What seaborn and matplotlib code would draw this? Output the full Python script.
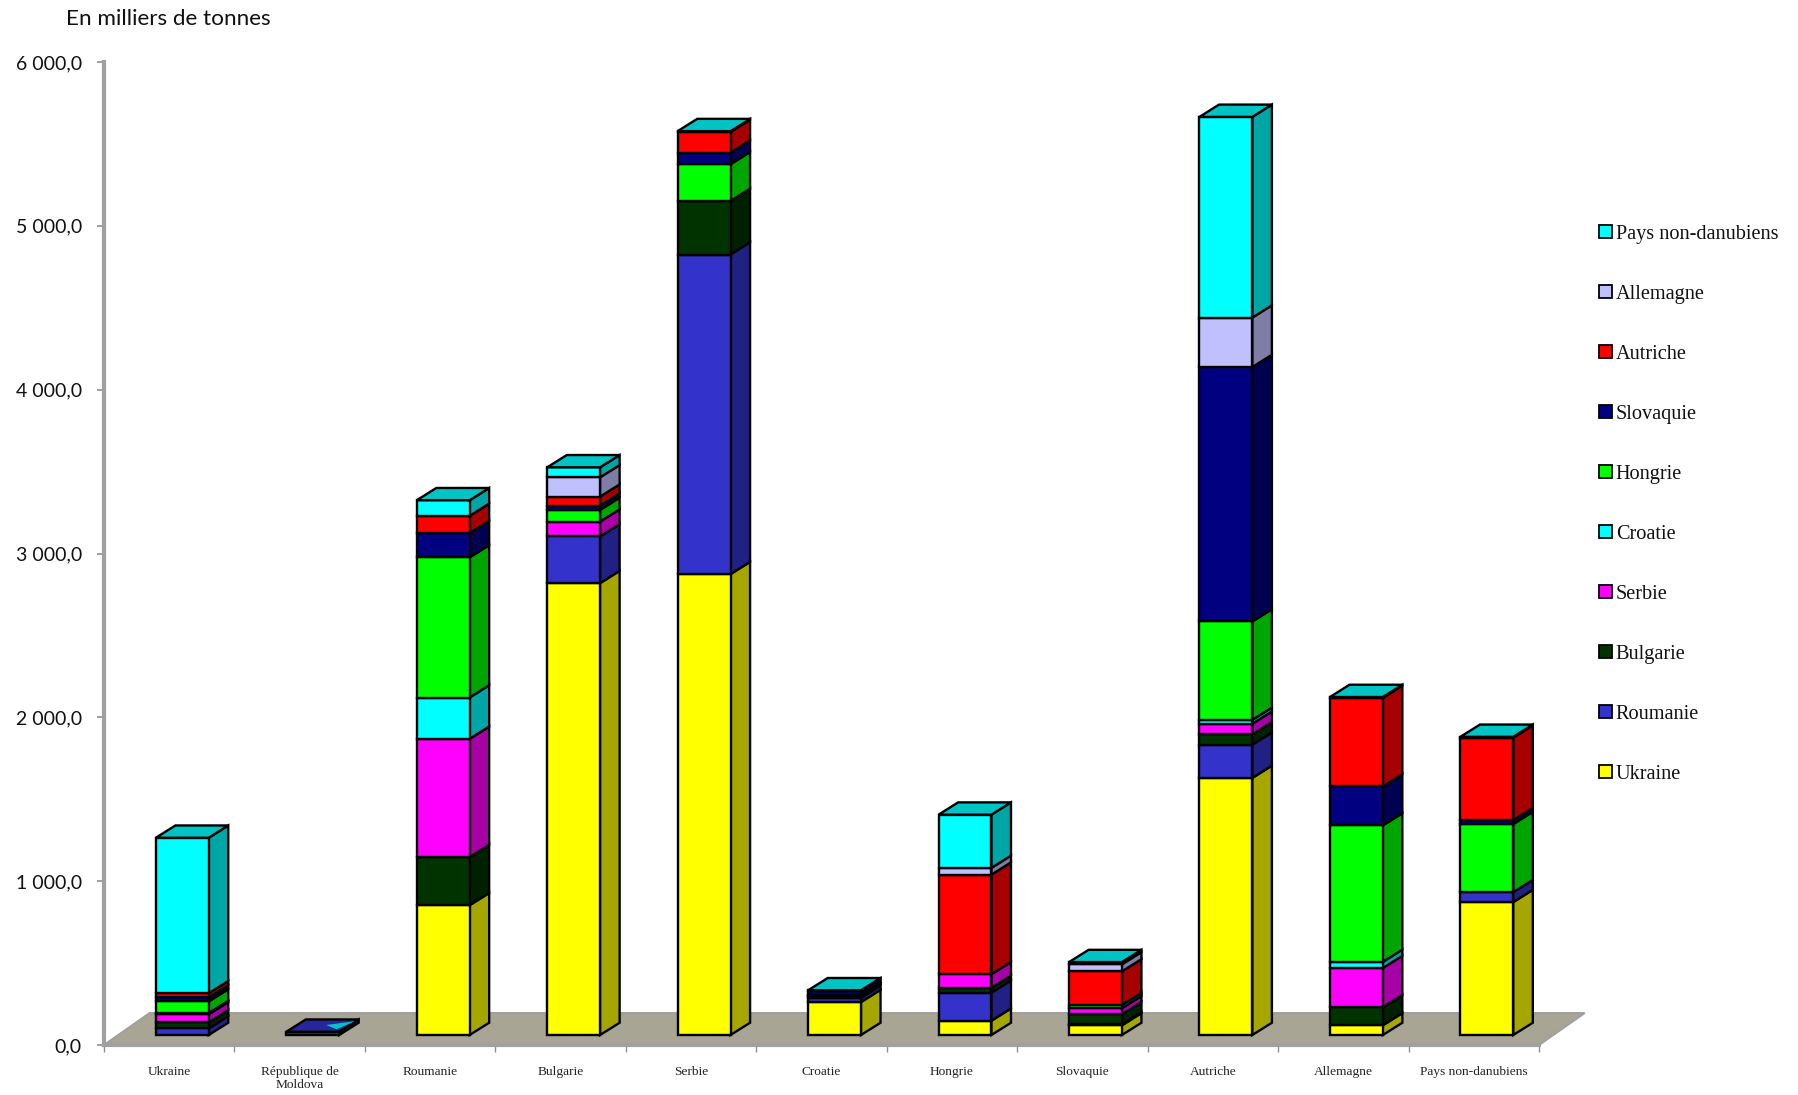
import matplotlib
matplotlib.use("Agg")
import matplotlib.pyplot as plt
import pandas as pd
import seaborn as sns
from matplotlib.colors import to_rgb
from matplotlib.patches import Patch, Polygon

# Step 1: the values, in thousands of tonnes
countries = ["Ukraine", "République de\nMoldova", "Roumanie", "Bulgarie", "Serbie", "Croatie",
             "Hongrie", "Slovaquie", "Autriche", "Allemagne", "Pays non-danubiens"]
series_names = ["Ukraine", "Roumanie", "Bulgarie", "Serbie", "Croatie", "Hongrie",
                "Slovaquie", "Autriche", "Allemagne", "Pays non-danubiens"]
series_colors = ["#FFFF00", "#3333CC", "#003300", "#FF00FF", "#00FFFF", "#00FF00",
                 "#000080", "#FF0000", "#C0C0FF", "#00FFFF"]

ukraine = [0, 0, 792, 2758, 2813, 201, 87, 59, 1569, 59, 811]
roumanie = [40, 20, 0, 285, 1951, 26, 171, 6, 203, 0, 61]
bulgarie = [37, 0, 294, 0, 327, 12, 30, 61, 63, 110, 0]
serbie = [49, 0, 722, 91, 0, 6, 83, 37, 65, 240, 0]
croatie = [8, 0, 252, 0, 0, 0, 0, 0, 24, 37, 0]
hongrie = [71, 0, 855, 71, 224, 0, 0, 20, 600, 833, 415]
slovaquie = [24, 0, 148, 26, 71, 23, 0, 0, 1553, 238, 26]
autriche = [26, 0, 106, 55, 126, 0, 608, 205, 0, 541, 502]
allemagne = [0, 0, 0, 118, 0, 0, 41, 43, 302, 0, 0]
pays = [949, 0, 95, 61, 5, 5, 325, 14, 1225, 5, 5]
all_series = [ukraine, roumanie, bulgarie, serbie, croatie, hongrie, slovaquie, autriche, allemagne, pays]

y_ticks = [0, 1000, 2000, 3000, 4000, 5000, 6000]
y_labels = ["0,0", "1 000,0", "2 000,0", "3 000,0", "4 000,0", "5 000,0", "6 000,0"]

# fake 3D settings, in data units
base_lift = 61
depth_x = 0.15
depth_y = 75
floor_x = 0.35
floor_y = 195
edge = 1.7

sns.set_theme(style="white")
plt.rcParams["font.family"] = ["Lato", "DejaVu Sans"]

fig = plt.figure(figsize=(17.99, 10.95), dpi=100)
ax = fig.add_axes([104 / 1799, 50 / 1095, 1435 / 1799, 983 / 1095])

# Step 2: front faces, one barplot per series stacked on the previous ones
df = pd.DataFrame(dict(zip(series_names, all_series)))
df["pays"] = countries
stack = [base_lift] * len(countries)
for name, color in zip(series_names, series_colors):
    part = df[df[name] > 0]
    bottoms = [stack[i] for i in part.index]
    sns.barplot(data=part, x="pays", y=name, order=countries, color=color, saturation=1,
                width=0.405, bottom=bottoms, edgecolor="black", linewidth=edge, zorder=3, ax=ax)
    stack = [s + v for s, v in zip(stack, df[name])]

# Step 3: side and top faces, taken from the bars seaborn just drew
faces = list(ax.patches)
faces.sort(key=lambda p: p.get_y())
top_bars = {}
for p in faces:
    x0 = p.get_x()
    x1 = x0 + p.get_width()
    y0 = p.get_y()
    y1 = y0 + p.get_height()
    r, g, b = to_rgb(p.get_facecolor()[:3])
    side = (r * 0.65, g * 0.65, b * 0.65)
    ax.add_patch(Polygon([(x1, y0), (x1 + depth_x, y0 + depth_y), (x1 + depth_x, y1 + depth_y), (x1, y1)],
                         facecolor=side, edgecolor="black", linewidth=edge, zorder=2.5))
    top_bars[round(x0)] = p

for p in top_bars.values():
    x0 = p.get_x()
    x1 = x0 + p.get_width()
    y1 = p.get_y() + p.get_height()
    r, g, b = to_rgb(p.get_facecolor()[:3])
    top = (r * 0.77, g * 0.77, b * 0.77)
    ax.add_patch(Polygon([(x0, y1), (x1, y1), (x1 + depth_x, y1 + depth_y), (x0 + depth_x, y1 + depth_y)],
                         facecolor=top, edgecolor="black", linewidth=edge, zorder=3.5))

# little cyan sliver showing on the Moldova top face
p = top_bars[1]
x1 = p.get_x() + p.get_width()
y1 = p.get_y() + p.get_height()
ax.add_patch(Polygon([(x1 - 0.1, y1 + depth_y * 0.55), (x1 + depth_x * 0.8, y1 + depth_y * 0.85),
                      (x1 - 0.02, y1 + depth_y * 0.2)], facecolor="#00C4C4", edgecolor="none", zorder=3.6))

# Step 4: floor and axes
x_min, x_max = -0.6, 10.4
ax.add_patch(Polygon([(x_min, 0), (x_max, 0), (x_max + floor_x, floor_y), (x_min + floor_x, floor_y)],
                     facecolor="#A8A595", edgecolor="#A0A0A0", linewidth=1.5, zorder=1, clip_on=False))
ax.set_xlim(x_min, x_max)
ax.set_ylim(0, 6000)
sns.despine(ax=ax, top=True, right=True)
for side_name in ["left", "bottom"]:
    ax.spines[side_name].set_color("#A0A0A0")
    ax.spines[side_name].set_linewidth(3)
ax.set_xlabel("")
ax.set_ylabel("")
ax.set_yticks(y_ticks)
ax.set_yticklabels(y_labels, fontsize=14, color="#111111")
ax.tick_params(axis="y", length=5, width=1.2, color="#909090", pad=11, left=True)

edges = [x_min + i for i in range(12)]
centers = [x_min + i + 0.5 for i in range(11)]
ax.set_xticks(edges)
ax.set_xticklabels([])
ax.tick_params(axis="x", which="major", length=5, width=1, color="#909090", bottom=True)
ax.set_xticks(centers, minor=True)
ax.set_xticklabels(countries, minor=True, fontsize=9.6, family="Liberation Serif", color="#222222", linespacing=1.1)
ax.tick_params(axis="x", which="minor", length=0, pad=15)

# Step 5: unit label and legend
fig.text(66 / 1799, 1 - 19 / 1095, "En milliers de tonnes", fontsize=16.2, va="center", color="#111111")

handles = [Patch(facecolor=c, edgecolor="black", linewidth=1.3, label=n)
           for n, c in zip(series_names[::-1], series_colors[::-1])]
ax.legend(handles=handles, loc="upper left", bbox_to_anchor=(1599 / 1799, 1 - 225 / 1095),
          bbox_transform=fig.transFigure, frameon=False, borderpad=0, borderaxespad=0,
          prop={"family": "Liberation Serif", "size": 14.6}, labelcolor="#111111",
          handlelength=0.62, handleheight=0.62, handletextpad=0.2, labelspacing=2.02)

fig.savefig("out.png", dpi=100)
